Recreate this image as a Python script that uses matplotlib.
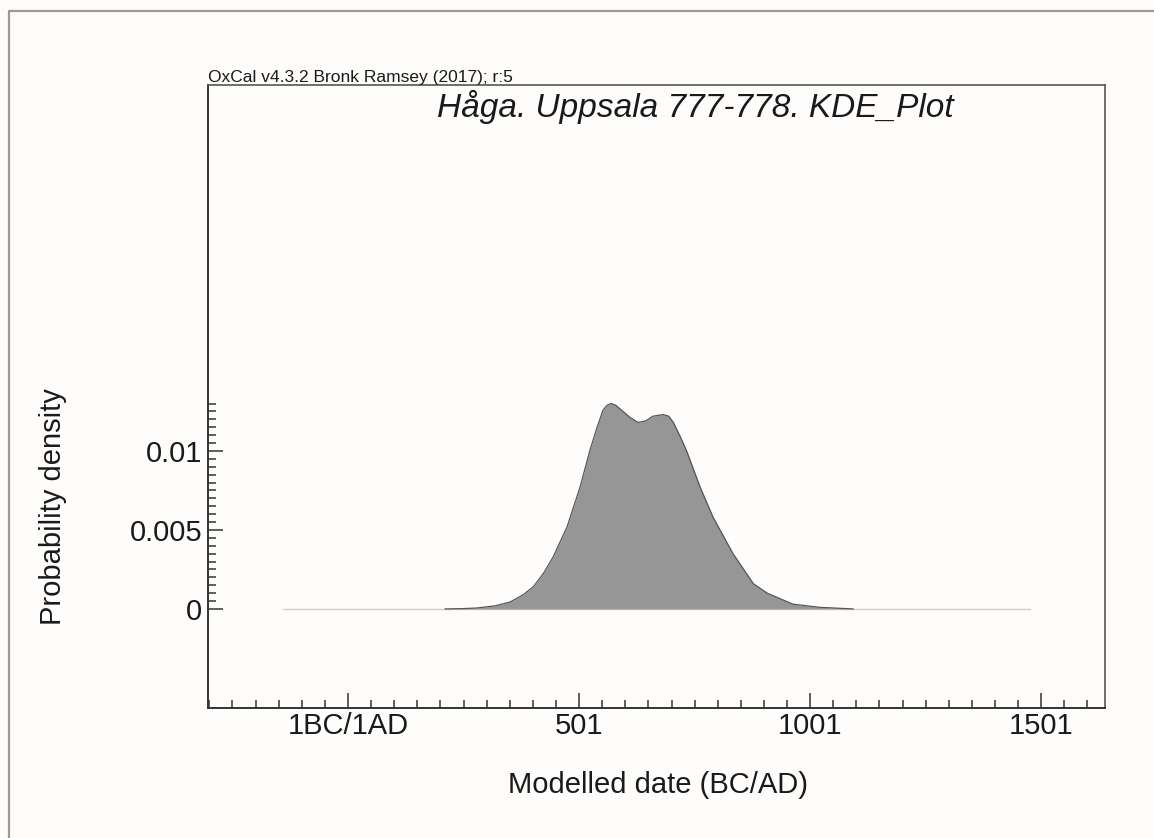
import matplotlib.pyplot as plt
from matplotlib.lines import Line2D

plt.rcParams["font.family"] = ["Liberation Sans", "DejaVu Sans"]

# KDE curve (year, probability density)
years = [211, 250, 280, 320, 352, 380, 402, 425, 445, 475, 503, 525, 540, 553,
         562, 570, 580, 596, 612, 629, 645, 661, 683, 695, 705, 720, 735, 763,
         791, 834, 878, 908, 964, 1022, 1094]
density = [0, 0.00002, 0.00006, 0.0002, 0.00044, 0.0009, 0.0014, 0.0023,
           0.0033, 0.0052, 0.0077, 0.0101, 0.0115, 0.0126, 0.0129, 0.0130,
           0.0129, 0.0125, 0.0121, 0.0118, 0.0119, 0.0122, 0.0123, 0.0122,
           0.0118, 0.0109, 0.0099, 0.0077, 0.0058, 0.0035, 0.0016, 0.0010,
           0.0003, 0.0001, 0]

baseline_years = [-140, 1477]

x_ticks = [1, 501, 1001, 1501]
x_labels = ["1BC/1AD", "501", "1001", "1501"]
y_ticks = [0, 0.005, 0.01]
y_labels = ["0", "0.005", "0.01"]

title = "Håga. Uppsala 777-778. KDE_Plot"
header = "OxCal v4.3.2 Bronk Ramsey (2017); r:5"

bg = "#fefdfb"
txt = "#1a1a1a"

fig = plt.figure(figsize=(11.54, 8.38), dpi=100, facecolor=bg)
ax = fig.add_axes([208 / 1154, 1 - 708 / 838, 897 / 1154, 623 / 838])
ax.set_facecolor(bg)

ax.plot(baseline_years, [0, 0], color="#cfcfcf", lw=1.0, zorder=1)
ax.fill_between(years, density, 0, color="#969696", lw=0, zorder=2)
ax.plot(years, density, color="#555555", lw=0.9, zorder=3)

ax.set_xlim(-302, 1639)
ax.set_ylim(-0.00627, 0.03316)

ax.set_xticks(x_ticks, x_labels)
ax.set_xticks([1 + 50 * k for k in range(-6, 33) if (1 + 50 * k) not in x_ticks],
              minor=True)
ax.set_yticks(y_ticks, y_labels)
ax.set_yticks([0.0005 * k for k in range(1, 27) if k not in (10, 20)], minor=True)

ax.tick_params(which="both", direction="in", colors="#333333", labelcolor=txt,
               width=1.1, labelsize=21)
ax.tick_params(which="major", length=11)
ax.tick_params(which="minor", length=5.5)
ax.tick_params(axis="x", which="both", top=False, pad=3)
ax.tick_params(axis="y", which="both", right=False, pad=4)

for side in ["left", "bottom"]:
    ax.spines[side].set_color("#333333")
    ax.spines[side].set_linewidth(1.4)
for side in ["top", "right"]:
    ax.spines[side].set_color("#555555")
    ax.spines[side].set_linewidth(1.2)

fig.text(208 / 1154, 1 - 82 / 838, header, fontsize=12.5, color=txt,
         ha="left", va="baseline")
fig.text(695 / 1154, 1 - 117 / 838, title, fontsize=24, style="italic",
         color=txt, ha="center", va="baseline")
fig.text(53 / 1154, 1 - 507 / 838, "Probability density", fontsize=21,
         rotation=90, color=txt, ha="center", va="center")
fig.text(658 / 1154, 1 - 785 / 838, "Modelled date (BC/AD)", fontsize=21,
         color=txt, ha="center", va="center")

# partial page border
fig.add_artist(Line2D([9 / 1154, 9 / 1154, 1.0], [0.0, 1 - 11 / 838, 1 - 11 / 838],
                      transform=fig.transFigure, color="#9a9a9a", lw=1.6))

fig.savefig("out.png", dpi=100, facecolor=bg)
